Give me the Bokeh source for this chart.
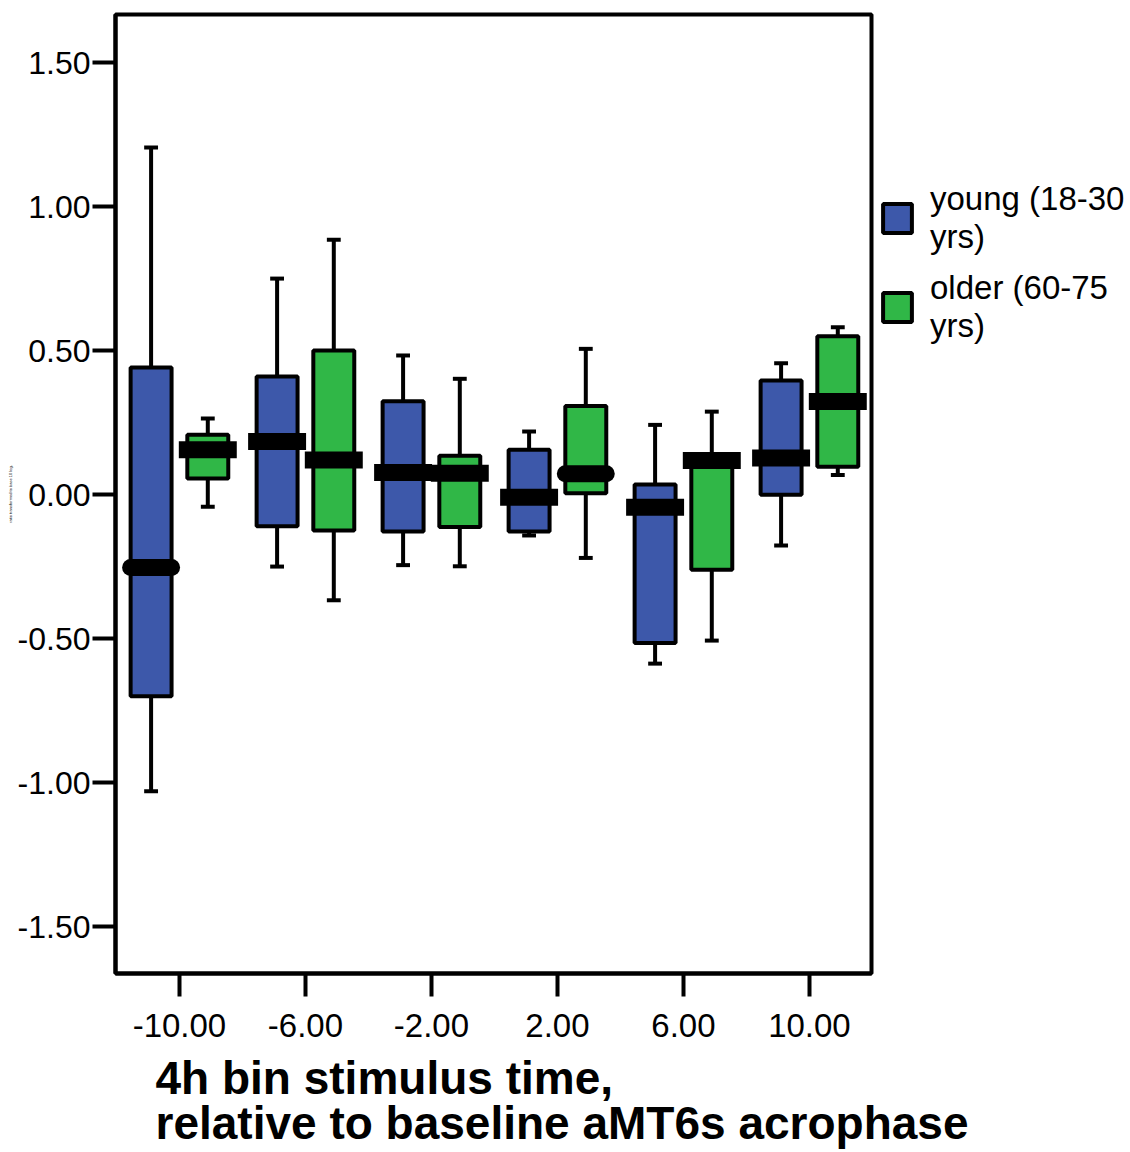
from bokeh.plotting import figure
from bokeh.models import Range1d, FixedTicker, Legend, LegendItem, Title, ColumnDataSource
from bokeh.embed import file_html
from bokeh.resources import INLINE

# ---- data ----
groups = [-10.0, -6.0, -2.0, 2.0, 6.0, 10.0]
x_tick_labels = ["-10.00", "-6.00", "-2.00", "2.00", "6.00", "10.00"]
y_ticks = [-1.5, -1.0, -0.5, 0.0, 0.5, 1.0, 1.5]
y_tick_labels = ["-1.50", "-1.00", "-0.50", "0.00", "0.50", "1.00", "1.50"]

young_low = [-1.03, -0.25, -0.245, -0.142, -0.587, -0.177]
young_q1 = [-0.70, -0.11, -0.128, -0.128, -0.515, -0.001]
young_med = [-0.253, 0.184, 0.077, -0.009, -0.044, 0.127]
young_q3 = [0.441, 0.41, 0.324, 0.156, 0.035, 0.396]
young_high = [1.205, 0.75, 0.483, 0.219, 0.242, 0.456]
young_round = [True, False, False, False, False, False]

older_low = [-0.042, -0.367, -0.249, -0.22, -0.507, 0.068]
older_q1 = [0.056, -0.125, -0.113, 0.005, -0.261, 0.097]
older_med = [0.156, 0.12, 0.074, 0.072, 0.118, 0.323]
older_q3 = [0.208, 0.50, 0.135, 0.308, 0.125, 0.55]
older_high = [0.264, 0.885, 0.402, 0.506, 0.288, 0.581]
older_round = [False, False, False, True, False, False]

series_labels = ["young (18-30\nyrs)", "older (60-75\nyrs)"]
series_colors = ["#3d58aa", "#30b747"]
x_title_lines = ["4h bin stimulus time,", "relative to baseline aMT6s acrophase"]
y_note = "ratio transformed to base 10 log."

FONT = "Liberation Sans"
OFFSET = 0.9
BOX_W = 1.3
CAP_HW = 0.22
MED_HW = 0.92
MED_RHW = 0.65

p = figure(
    frame_width=756, frame_height=959,
    min_border_left=115, min_border_top=14, min_border_right=251, min_border_bottom=176,
    x_range=Range1d(-12.03, 11.97), y_range=Range1d(-1.663, 1.667),
    output_backend="svg", toolbar_location=None, tools="",
    background_fill_color="white", border_fill_color="white",
)
p.grid.visible = False
p.outline_line_color = "black"
p.outline_line_width = 4

for ax, ticks, labels in ((p.xaxis[0], groups, x_tick_labels), (p.yaxis[0], y_ticks, y_tick_labels)):
    ax.ticker = FixedTicker(ticks=ticks)
    ax.major_label_overrides = {t: l for t, l in zip(ticks, labels)}
    ax.axis_line_width = 4
    ax.axis_line_color = "black"
    ax.major_tick_line_width = 4
    ax.major_tick_out = 23
    ax.major_tick_in = 0
    ax.minor_tick_out = 0
    ax.minor_tick_in = 0
    ax.major_label_text_font = FONT
    ax.major_label_text_color = "black"
p.xaxis.major_label_text_font_size = "33px"
p.yaxis.major_label_text_font_size = "32px"
p.xaxis.major_label_standoff = 17
p.yaxis.major_label_standoff = 2

# tiny y-axis note (barely legible in the reference)
p.yaxis.axis_label = y_note
p.yaxis.axis_label_text_font = FONT
p.yaxis.axis_label_text_font_size = "4px"
p.yaxis.axis_label_text_font_style = "normal"
p.yaxis.axis_label_text_color = "black"
p.yaxis.axis_label_standoff = 2

box_renderers = []
series = [
    (-OFFSET, young_low, young_q1, young_med, young_q3, young_high, young_round, series_colors[0]),
    (OFFSET, older_low, older_q1, older_med, older_q3, older_high, older_round, series_colors[1]),
]
for off, lo, q1, med, q3, hi, rnd, col in series:
    xs = [g + off for g in groups]
    src = ColumnDataSource(dict(
        x=xs, lo=lo, q1=q1, med=med, q3=q3, hi=hi,
        cl=[x - CAP_HW for x in xs], cr=[x + CAP_HW for x in xs],
    ))
    # whiskers
    p.segment(x0="x", y0="q3", x1="x", y1="hi", source=src, line_color="black", line_width=4)
    p.segment(x0="x", y0="q1", x1="x", y1="lo", source=src, line_color="black", line_width=4)
    p.segment(x0="cl", y0="hi", x1="cr", y1="hi", source=src, line_color="black", line_width=4)
    p.segment(x0="cl", y0="lo", x1="cr", y1="lo", source=src, line_color="black", line_width=4)
    # box
    r = p.vbar(x="x", width=BOX_W, top="q3", bottom="q1", source=src,
               fill_color=col, line_color="black", line_width=4)
    box_renderers.append(r)
    # medians
    sq = [i for i in range(len(xs)) if not rnd[i]]
    rd = [i for i in range(len(xs)) if rnd[i]]
    sq_src = ColumnDataSource(dict(
        x0=[xs[i] - MED_HW for i in sq], x1=[xs[i] + MED_HW for i in sq], y=[med[i] for i in sq]))
    rd_src = ColumnDataSource(dict(
        x0=[xs[i] - MED_RHW for i in rd], x1=[xs[i] + MED_RHW for i in rd], y=[med[i] for i in rd]))
    p.segment(x0="x0", y0="y", x1="x1", y1="y", source=sq_src, line_color="black",
              line_width=17, line_cap="butt")
    p.segment(x0="x0", y0="y", x1="x1", y1="y", source=rd_src, line_color="black",
              line_width=17, line_cap="round")

legend = Legend(
    items=[LegendItem(label=series_labels[0], renderers=[box_renderers[0]]),
           LegendItem(label=series_labels[1], renderers=[box_renderers[1]])],
    location=(8, 628), glyph_width=36, glyph_height=36, label_standoff=15,
    padding=0, spacing=13, margin=0,
    label_text_font=FONT, label_text_font_size="33px", label_text_color="black",
    border_line_color=None, background_fill_alpha=0,
)
p.add_layout(legend, "right")

# x-axis title: two left-aligned bold lines below the axis
for txt, so in zip(x_title_lines, (21, -40)):
    p.add_layout(Title(text=txt, align="left", offset=40, standoff=so,
                       text_font=FONT, text_font_style="bold", text_font_size="46px",
                       text_color="black"), "below")

open("out.html", "w").write(file_html(p, INLINE))
